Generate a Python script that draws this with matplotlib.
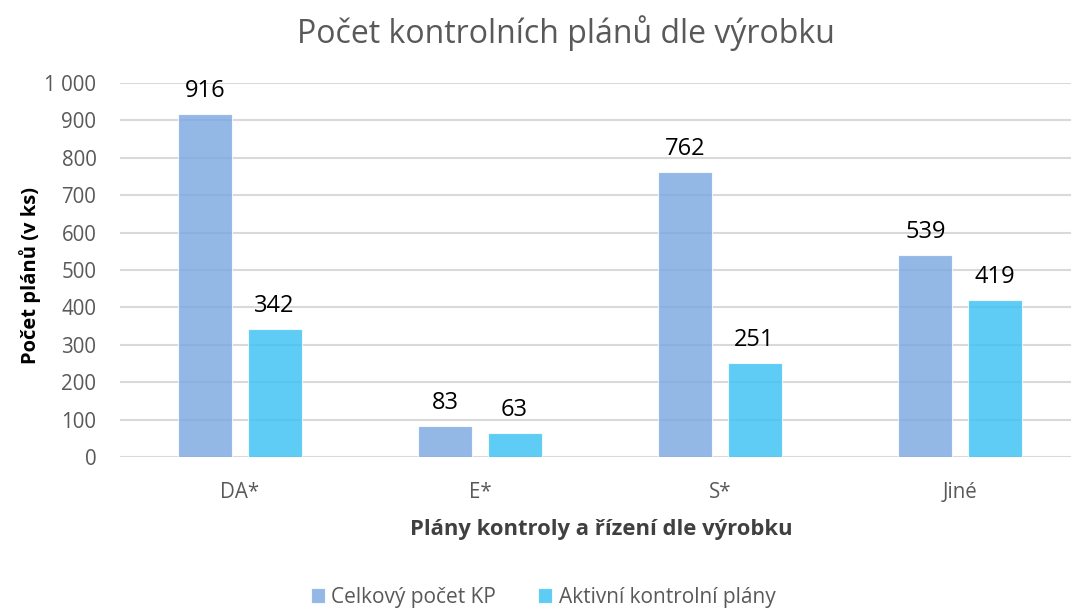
import matplotlib
matplotlib.use("Agg")
import matplotlib.pyplot as plt
import numpy as np
from matplotlib.ticker import FuncFormatter

categories = ["DA*", "E*", "S*", "Jiné"]
celkovy = [916, 83, 762, 539]
aktivni = [342, 63, 251, 419]
series_names = ["Celkový počet KP", "Aktivní kontrolní plány"]
yticks = [0, 100, 200, 300, 400, 500, 600, 700, 800, 900, 1000]

plt.rcParams['font.family'] = ['Open Sans', 'DejaVu Sans']

W, H = 1071, 608
fig = plt.figure(figsize=(W / 100, H / 100), dpi=100)
left_px, right_px, top_px, bot_px = 120, 1080, 83, 457
ax = fig.add_axes([left_px / W, 1 - bot_px / H, (right_px - left_px) / W, (bot_px - top_px) / H])

x = np.arange(len(categories))
bw = 0.225
off = 0.144
c1 = "#7aa6e0"
c2 = "#36c0f2"
b1 = ax.bar(x - off, celkovy, bw, color=c1, alpha=0.8, edgecolor="white", linewidth=0.8, zorder=3, label=series_names[0])
b2 = ax.bar(x + off, aktivni, bw, color=c2, alpha=0.8, edgecolor="white", linewidth=0.8, zorder=3, label=series_names[1])

for bars in (b1, b2):
    for r in bars:
        ax.annotate(f"{int(r.get_height())}", (r.get_x() + r.get_width() / 2, r.get_height()),
                    xytext=(0, 8), textcoords="offset points", ha="center", va="bottom",
                    fontsize=17, color="black", zorder=5)

ax.set_xlim(-0.5, 3.5)
ax.set_ylim(0, 1000)
ax.set_yticks(yticks)
ax.yaxis.set_major_formatter(FuncFormatter(lambda v, p: f"{int(v):,}".replace(",", " ")))
ax.set_xticks(x)
ax.set_xticklabels(categories)
ax.tick_params(axis="y", length=0, pad=17, labelsize=14.8, labelcolor="#595959")
ax.tick_params(axis="x", length=0, pad=18, labelsize=14.8, labelcolor="#595959")
ax.grid(axis="y", color="#d9d9d9", linewidth=1.5, zorder=1)
ax.set_axisbelow(True)
for s in ax.spines.values():
    s.set_visible(False)

fig.text(566 / W, 1 - 33 / H, "Počet kontrolních plánů dle výrobku", ha="center", va="center",
         fontsize=23, color="#595959")
fig.text(601 / W, 1 - 529 / H, "Plány kontroly a řízení dle výrobku", ha="center", va="center",
         fontsize=15.8, fontweight="bold", color="#404040")
fig.text(30 / W, 1 - 276 / H, "Počet plánů (v ks)", ha="center", va="center", rotation=90,
         fontsize=14.5, fontweight="bold", color="black")

fig.legend(handles=[b1, b2], labels=series_names, loc="center", bbox_to_anchor=(543 / W, 1 - 597 / H),
           ncol=2, frameon=False, fontsize=15, labelcolor="#595959", handlelength=0.7, handleheight=0.7,
           handletextpad=0.3, columnspacing=2.0)

fig.savefig("out.png", dpi=100)
